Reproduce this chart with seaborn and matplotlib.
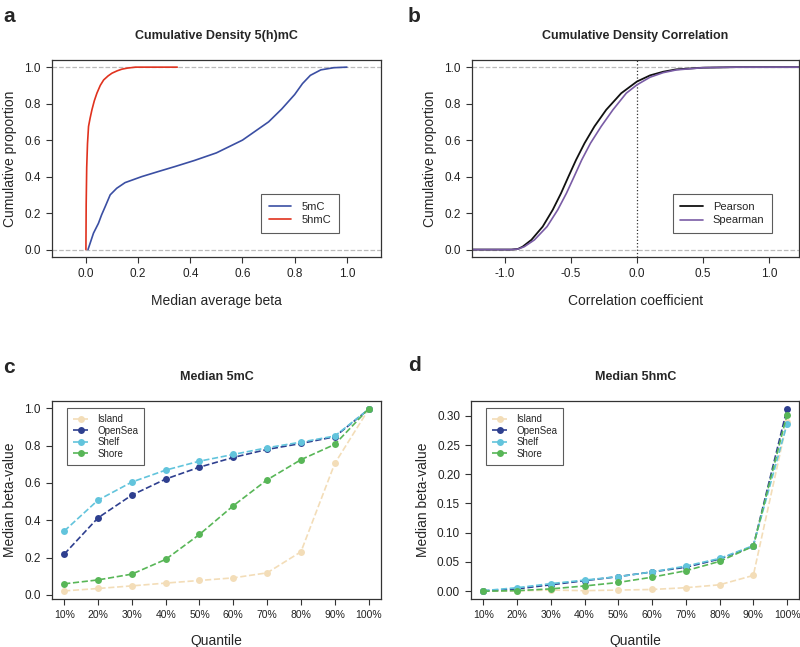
import numpy as np
import pandas as pd
import matplotlib
matplotlib.use("Agg")
import matplotlib.pyplot as plt
import seaborn as sns

# panel a: cumulative density of median average beta
beta_5mc = [0.008, 0.015, 0.029, 0.048, 0.06, 0.074, 0.093, 0.118, 0.15, 0.214, 0.278,
            0.341, 0.415, 0.5, 0.6, 0.7, 0.75, 0.8, 0.83, 0.86, 0.9, 0.95, 1.0]
cum_5mc = [0.0, 0.03, 0.09, 0.144, 0.19, 0.236, 0.30, 0.336, 0.367, 0.40, 0.428,
           0.455, 0.488, 0.53, 0.60, 0.70, 0.77, 0.85, 0.91, 0.955, 0.985, 0.997, 1.0]
beta_5hmc = [0.0, 0.001, 0.003, 0.006, 0.01, 0.016, 0.023, 0.032, 0.042, 0.055, 0.068,
             0.085, 0.1, 0.12, 0.138, 0.16, 0.19, 0.35]
cum_5hmc = [0.0, 0.25, 0.45, 0.58, 0.675, 0.72, 0.766, 0.815, 0.857, 0.9, 0.93,
            0.952, 0.967, 0.98, 0.989, 0.995, 1.0, 1.0]

# panel b: cumulative density of correlation coefficients
pearson_x = [-1.25, -0.95, -0.9, -0.866, -0.80, -0.714, -0.638, -0.575, -0.519, -0.461,
             -0.397, -0.322, -0.233, -0.119, 0.0, 0.1, 0.2, 0.3, 0.5, 0.75, 1.25]
cum_pearson = [0.0, 0.0, 0.004, 0.016, 0.053, 0.126, 0.218, 0.309, 0.40, 0.492,
               0.583, 0.675, 0.766, 0.857, 0.921, 0.955, 0.975, 0.988, 0.997, 1.0, 1.0]
spearman_x = [-1.25, -0.95, -0.9, -0.853, -0.777, -0.681, -0.60, -0.534, -0.476, -0.418,
              -0.352, -0.271, -0.182, -0.081, 0.0, 0.1, 0.2, 0.3, 0.5, 0.75, 1.25]
cum_spearman = [0.0, 0.0, 0.003, 0.016, 0.053, 0.126, 0.218, 0.309, 0.40, 0.492,
                0.583, 0.675, 0.766, 0.857, 0.903, 0.945, 0.97, 0.985, 0.997, 1.0, 1.0]

# panels c, d: median beta-value per quantile
quantiles = ["10%", "20%", "30%", "40%", "50%", "60%", "70%", "80%", "90%", "100%"]
regions = ["Island", "OpenSea", "Shelf", "Shore"]
med_5mc_island = [0.021, 0.034, 0.048, 0.063, 0.077, 0.091, 0.118, 0.231, 0.705, 0.995]
med_5mc_opensea = [0.218, 0.413, 0.535, 0.621, 0.685, 0.737, 0.780, 0.812, 0.848, 0.995]
med_5mc_shelf = [0.342, 0.508, 0.605, 0.669, 0.717, 0.753, 0.789, 0.819, 0.852, 0.995]
med_5mc_shore = [0.059, 0.080, 0.111, 0.190, 0.324, 0.478, 0.617, 0.725, 0.807, 0.998]
med_5hmc_island = [0.0, 0.0005, 0.002, 0.001, 0.002, 0.003, 0.006, 0.011, 0.027, 0.29]
med_5hmc_opensea = [0.0005, 0.004, 0.011, 0.018, 0.025, 0.033, 0.041, 0.055, 0.077, 0.312]
med_5hmc_shelf = [0.001, 0.006, 0.013, 0.019, 0.025, 0.033, 0.043, 0.056, 0.078, 0.286]
med_5hmc_shore = [0.0, 0.001, 0.004, 0.009, 0.015, 0.024, 0.035, 0.051, 0.077, 0.302]

region_colors = {"Island": "#F3DDB8", "OpenSea": "#2E3F8F",
                 "Shelf": "#62C4DC", "Shore": "#58B657"}

sns.set_theme(style="ticks")
plt.rcParams["font.family"] = ["Liberation Sans", "DejaVu Sans"]
plt.rcParams["axes.edgecolor"] = "#333333"
plt.rcParams["axes.linewidth"] = 0.9
plt.rcParams["xtick.color"] = "#333333"
plt.rcParams["ytick.color"] = "#333333"
plt.rcParams["xtick.labelcolor"] = "#222222"
plt.rcParams["ytick.labelcolor"] = "#222222"

fig = plt.figure(figsize=(8, 6.47), dpi=100)
ax_a = fig.add_axes([0.065, 0.603, 0.411, 0.3045])
ax_b = fig.add_axes([0.590, 0.603, 0.409, 0.3045])
ax_c = fig.add_axes([0.065, 0.074, 0.411, 0.306])
ax_d = fig.add_axes([0.589, 0.074, 0.410, 0.306])


def style_axis(ax, title, xlabel, ylabel, tick_size=8.5):
    ax.set_title(title, fontsize=9, fontweight="bold", pad=15)
    ax.set_xlabel(xlabel, fontsize=10, labelpad=10)
    ax.set_ylabel(ylabel, fontsize=10, labelpad=5)
    ax.tick_params(axis="both", length=4, width=0.8, labelsize=tick_size, pad=4)
    for s in ax.spines.values():
        s.set_visible(True)


def framed_legend(ax, **kw):
    leg = ax.legend(frameon=True, fancybox=False, borderaxespad=0, **kw)
    leg.get_frame().set_edgecolor("#333333")
    leg.get_frame().set_linewidth(0.8)
    return leg


# ---- a
for y in (0, 1):
    ax_a.axhline(y, color="#BBBBBB", ls="--", lw=0.9, zorder=0)
sns.lineplot(x=beta_5mc, y=cum_5mc, ax=ax_a, color="#3B4FA3", lw=1.2, label="5mC")
sns.lineplot(x=beta_5hmc, y=cum_5hmc, ax=ax_a, color="#E0321E", lw=1.2, label="5hmC")
ax_a.set_xlim(-0.13, 1.13)
ax_a.set_ylim(-0.04, 1.04)
ax_a.set_xticks([0, 0.2, 0.4, 0.6, 0.8, 1.0])
ax_a.set_yticks([0, 0.2, 0.4, 0.6, 0.8, 1.0])
ax_a.xaxis.set_major_formatter(matplotlib.ticker.FormatStrFormatter("%.1f"))
ax_a.yaxis.set_major_formatter(matplotlib.ticker.FormatStrFormatter("%.1f"))
style_axis(ax_a, "Cumulative Density 5(h)mC", "Median average beta", "Cumulative proportion")
framed_legend(ax_a, loc="lower right", bbox_to_anchor=(0.872, 0.122), fontsize=8,
              handlelength=2.0, borderpad=0.7, labelspacing=0.3, handletextpad=0.9)

# ---- b
for y in (0, 1):
    ax_b.axhline(y, color="#BBBBBB", ls="--", lw=0.9, zorder=0)
ax_b.axvline(0, color="#333333", ls=":", lw=0.9, zorder=0)
sns.lineplot(x=pearson_x, y=cum_pearson, ax=ax_b, color="#111111", lw=1.3, label="Pearson")
sns.lineplot(x=spearman_x, y=cum_spearman, ax=ax_b, color="#7A5CA6", lw=1.2, label="Spearman")
ax_b.set_xlim(-1.25, 1.23)
ax_b.set_ylim(-0.04, 1.04)
ax_b.set_xticks([-1.0, -0.5, 0.0, 0.5, 1.0])
ax_b.set_yticks([0, 0.2, 0.4, 0.6, 0.8, 1.0])
ax_b.xaxis.set_major_formatter(matplotlib.ticker.FormatStrFormatter("%.1f"))
ax_b.yaxis.set_major_formatter(matplotlib.ticker.FormatStrFormatter("%.1f"))
style_axis(ax_b, "Cumulative Density Correlation", "Correlation coefficient", "Cumulative proportion")
framed_legend(ax_b, loc="lower right", bbox_to_anchor=(0.917, 0.12), fontsize=8,
              handlelength=2.0, borderpad=0.7, labelspacing=0.3, handletextpad=0.9)

# ---- c, d
qpos = np.arange(1, len(quantiles) + 1)
series_c = [med_5mc_island, med_5mc_opensea, med_5mc_shelf, med_5mc_shore]
series_d = [med_5hmc_island, med_5hmc_opensea, med_5hmc_shelf, med_5hmc_shore]

for ax, series, title in ((ax_c, series_c, "Median 5mC"), (ax_d, series_d, "Median 5hmC")):
    for name, vals in zip(regions, series):
        sns.lineplot(x=qpos, y=vals, ax=ax, color=region_colors[name], lw=1.2,
                     linestyle="--", marker="o", markersize=5, markeredgewidth=0,
                     label=name)
    ax.set_xlim(0.64, 10.36)
    ax.set_xticks(qpos)
    ax.set_xticklabels(quantiles)
    style_axis(ax, title, "Quantile", "Median beta-value")
    ax.tick_params(axis="x", labelsize=7.5)
    ax.tick_params(axis="y", labelsize=8.5)
    framed_legend(ax, loc="upper left", bbox_to_anchor=(0.046, 0.963), fontsize=7,
                  handlelength=1.7, borderpad=0.6, labelspacing=0.15, handletextpad=0.8)

ax_c.set_ylim(-0.023, 1.039)
ax_c.set_yticks([0, 0.2, 0.4, 0.6, 0.8, 1.0])
ax_c.yaxis.set_major_formatter(matplotlib.ticker.FormatStrFormatter("%.1f"))
ax_d.set_ylim(-0.0135, 0.325)
ax_d.set_yticks([0, 0.05, 0.10, 0.15, 0.20, 0.25, 0.30])
ax_d.yaxis.set_major_formatter(matplotlib.ticker.FormatStrFormatter("%.2f"))

# panel letters
for letter, x, y in (("a", 0.004, 0.975), ("b", 0.51, 0.975), ("c", 0.004, 0.432), ("d", 0.51, 0.435)):
    fig.text(x, y, letter, fontsize=15, fontweight="bold", ha="left", va="center")

fig.savefig("out.png", dpi=100)
